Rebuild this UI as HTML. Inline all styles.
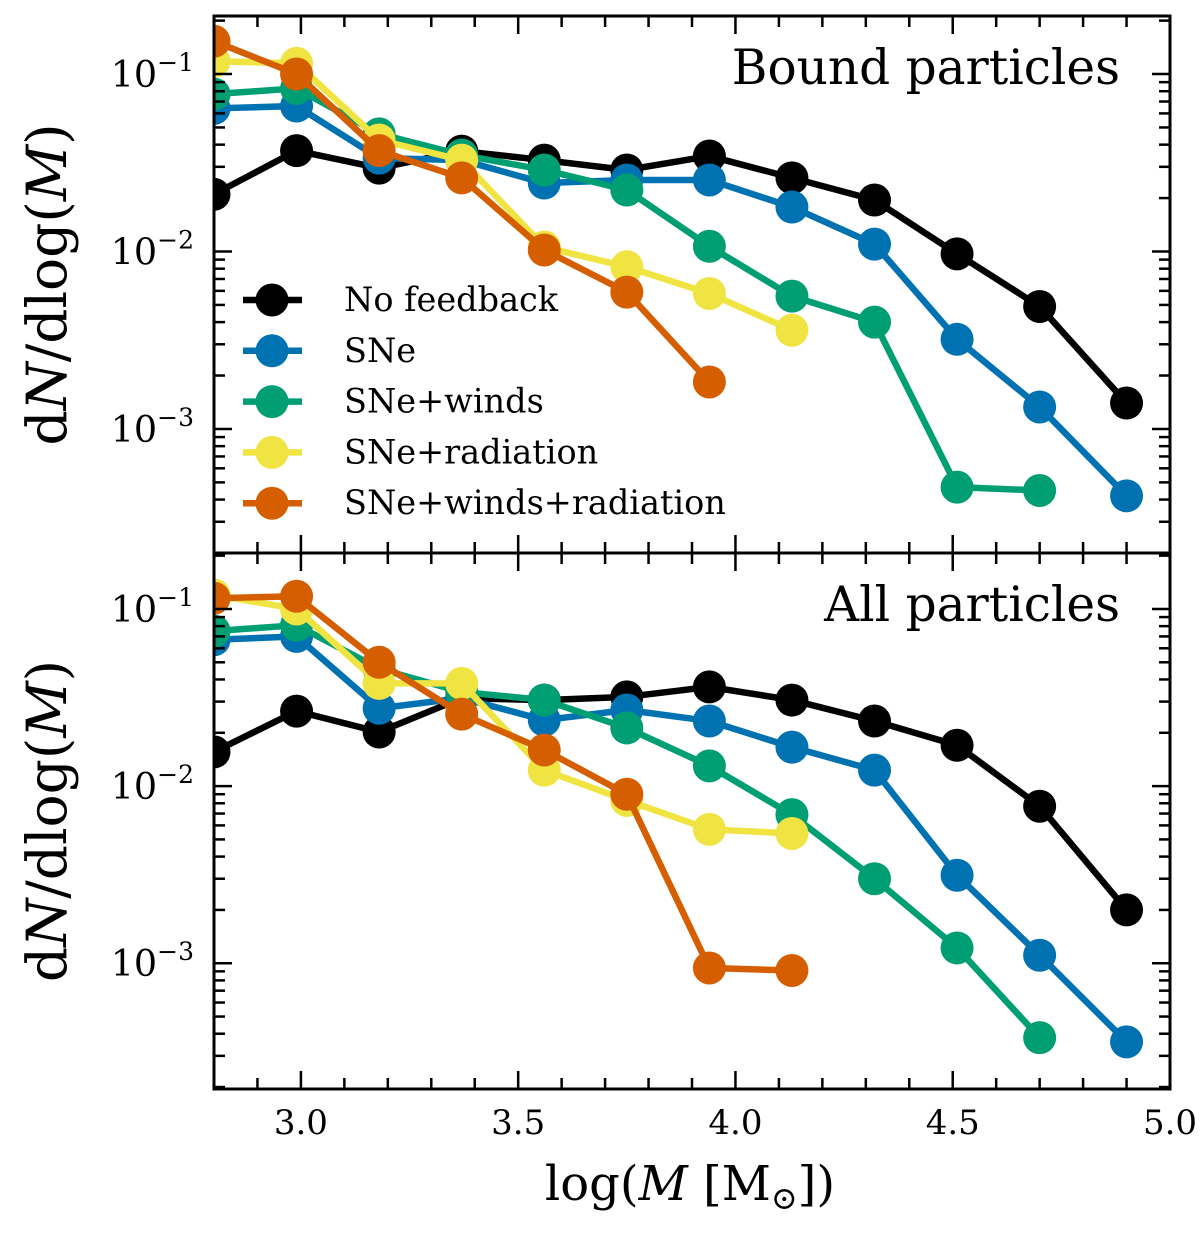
<!DOCTYPE html>
<html><head><meta charset="utf-8"><style>
body{margin:0;background:#fff}
svg text{font-family:"DejaVu Serif","Liberation Serif",serif;fill:#000}
</style></head><body>
<svg id="c" width="1200" height="1229" viewBox="0 0 1200 1229" xmlns="http://www.w3.org/2000/svg">
<defs>
<clipPath id="clipTop"><rect x="214" y="16" width="956" height="537"/></clipPath>
<clipPath id="clipBot"><rect x="214" y="553" width="956" height="536"/></clipPath>
</defs>
</svg>
<script>
const xs=[2.80,2.99,3.18,3.37,3.56,3.75,3.94,4.13,4.32,4.51,4.70,4.90];
const seriesNames=["No feedback","SNe","SNe+winds","SNe+radiation","SNe+winds+radiation"];
const colors=["#000000","#0072b2","#009e73","#f0e442","#d55e00"];
const topBlack=[0.021,0.037,0.0295,0.0368,0.0327,0.0288,0.0345,0.026,0.0195,0.0097,0.0049,0.0014];
const topBlue=[0.064,0.066,0.0336,0.0327,0.0243,0.0253,0.0253,0.0178,0.011,0.0032,0.00133,0.00042];
const topGreen=[0.077,0.083,0.046,0.035,0.0288,0.0222,0.0107,0.0056,0.004,0.00047,0.00045];
const topYellow=[0.118,0.115,0.0425,0.0327,0.0106,0.0082,0.0058,0.0036];
const topOrange=[0.153,0.10,0.037,0.026,0.0102,0.0059,0.00184];
const botBlack=[0.0156,0.0265,0.0202,0.0314,0.0306,0.0319,0.0363,0.0306,0.0233,0.017,0.0077,0.002];
const botBlue=[0.067,0.070,0.0275,0.0314,0.0236,0.0269,0.0233,0.0166,0.0123,0.00314,0.00111,0.00036];
const botGreen=[0.075,0.081,0.046,0.034,0.0306,0.0213,0.013,0.0069,0.0030,0.00122,0.00038];
const botYellow=[0.12,0.10,0.038,0.038,0.0123,0.0083,0.0057,0.0054];
const botOrange=[0.115,0.118,0.050,0.0255,0.016,0.009,0.00094,0.00091];
const xTicks=[3.0,3.5,4.0,4.5,5.0];
const yTickExp=[-1,-2,-3];

const NS="http://www.w3.org/2000/svg";
const svg=document.getElementById('c');
function mk(tag,attrs,parent){const e=document.createElementNS(NS,tag);for(const k in attrs)e.setAttribute(k,attrs[k]);(parent||svg).appendChild(e);return e;}
const X0=214,X1=1170,XMIN=2.8,XMAX=5.0;
const sx=v=>X0+(v-XMIN)/(XMAX-XMIN)*(X1-X0);
function panel(y0,y1,lmin,lmax,data,title,clip,pname){
  const sy=v=>y1-(Math.log10(v)-lmin)/(lmax-lmin)*(y1-y0);
  const g=mk('g',{});
  
  
  data.forEach((arr,i)=>{
    const sg=mk('g',{'clip-path':'url(#'+clip+')'},g);
    
    
    const pts=arr.map((v,j)=>sx(xs[j])+','+sy(v)).join(' ');
    const pl=mk('polyline',{points:pts,fill:'none',stroke:colors[i],'stroke-width':6.5,'stroke-linejoin':'round'},sg);
    
    
    arr.forEach((v,j)=>{
      const c=mk('circle',{cx:sx(xs[j]),cy:sy(v),r:16.5,fill:colors[i]},sg);
      
      
    });
  });
  const tg=mk('g',{stroke:'#000','stroke-width':2.5},g);
  
  
  for(let k=Math.floor(lmin);k<=Math.ceil(lmax);k++){
    for(let m=1;m<10;m++){
      const l=k+Math.log10(m); if(l<lmin||l>lmax)continue;
      const y=y1-(l-lmin)/(lmax-lmin)*(y1-y0);
      const len=m==1?18:11;
      mk('line',{x1:X0,x2:X0+len,y1:y,y2:y},tg);
      mk('line',{x1:X1,x2:X1-len,y1:y,y2:y},tg);
    }
  }
  for(let t=2.8;t<=5.001;t+=0.1){
    const x=sx(t);const major=Math.abs(t*2-Math.round(t*2))<1e-6;
    const len=major?18:11;
    mk('line',{x1:x,x2:x,y1:y1,y2:y1-len},tg);
    mk('line',{x1:x,x2:x,y1:y0,y2:y0+len},tg);
  }
  yTickExp.forEach(e=>{
    const y=sy(Math.pow(10,e));
    const t=mk('text',{x:194,y:y+13,'font-size':36.5,'text-anchor':'end'},g);
    
    
    t.innerHTML='10<tspan dy="-16" font-size="25">−'+(-e)+'</tspan>';
  });
  mk('rect',{x:X0,y:y0,width:X1-X0,height:y1-y0,fill:'none',stroke:'#000','stroke-width':3},g);
  const tt=mk('text',{x:1120,y:y0+68,'font-size':48.5,'text-anchor':'end'},g);
  
  
  tt.textContent=title;
  const yl=mk('text',{transform:'translate(66,'+((y0+y1)/2)+') rotate(-90)','font-size':55,'text-anchor':'middle'},g);
  
  
  yl.innerHTML='d<tspan font-style="italic">N</tspan>/dlog(<tspan font-style="italic">M</tspan>)';
  return sy;
}
panel(16,553,-3.699,-0.673,[topBlack,topBlue,topGreen,topYellow,topOrange],'Bound particles','clipTop','top-panel');
panel(553,1089,-3.71,-0.684,[botBlack,botBlue,botGreen,botYellow,botOrange],'All particles','clipBot','bottom-panel');
xTicks.forEach(t=>{
  const e=mk('text',{x:sx(t),y:1134,'font-size':34,'text-anchor':'middle'});
  
  
  e.textContent=t.toFixed(1);
});
const xl=mk('text',{x:690,y:1200,'font-size':48,'text-anchor':'middle'});


xl.innerHTML='log(<tspan font-style="italic">M</tspan> [M<tspan font-size="32" dy="9">⊙</tspan><tspan dy="-9">])</tspan>';
const lg=mk('g',{});


seriesNames.forEach((n,i)=>{
  const y=300+i*50.8;
  const eg=mk('g',{},lg);
  
  
  mk('line',{x1:243,x2:302,y1:y,y2:y,stroke:colors[i],'stroke-width':6.5},eg);
  mk('circle',{cx:272,cy:y,r:16.5,fill:colors[i]},eg);
  const t=mk('text',{x:344,y:y+11,'font-size':33.5},eg);
  t.textContent=n;
});
</script>
</body></html>
